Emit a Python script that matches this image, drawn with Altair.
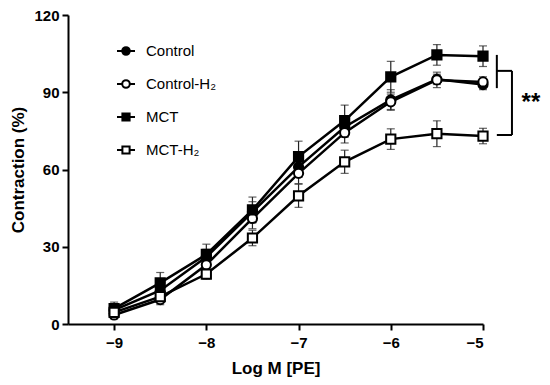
import altair as alt
import pandas as pd

# ---- data ----
log_m = [-9, -8.5, -8, -7.5, -7, -6.5, -6, -5.5, -5]
series_names = ["Control", "Control-H\u2082", "MCT", "MCT-H\u2082"]

control = [5.4, 13, 26, 43.5, 61, 76.5, 87, 95, 93]
control_err = [2, 3, 3, 4, 4, 4, 4, 2, 2]

control_h2 = [3.5, 9.5, 23, 41, 58.5, 74.3, 86.3, 94.8, 94]
control_h2_err = [1.5, 2, 3, 4, 4, 4, 3, 3, 2]

mct = [6, 16, 27, 44.3, 65, 79, 96, 104.5, 104]
mct_err = [2.5, 4, 4, 5, 6, 6, 6, 4, 4]

mct_h2 = [4.5, 10.6, 19.4, 33.4, 49.8, 63, 71.8, 73.9, 73]
mct_h2_err = [2, 2, 2, 3, 4.5, 4.5, 4, 5, 3]

# significance bracket (data units)
bracket_x = [-4.85, -4.686]
bracket_top = [104.5, 91.6]
bracket_mid = 98.3
bracket_bottom = 73.4
star_x = -4.48
star_y = 85.8
star_text = "**"

rows = []
for name, vals, errs in zip(series_names,
                            [control, control_h2, mct, mct_h2],
                            [control_err, control_h2_err, mct_err, mct_h2_err]):
    for x, v, e in zip(log_m, vals, errs):
        rows.append({"x": x, "y": v, "lo": v - e, "hi": v + e, "series": name})
df = pd.DataFrame(rows)

FONT = "Liberation Sans"
XT = "Log M [PE]"
YT = "Contraction (%)"

xscale = alt.Scale(domain=[-9.5, -5], nice=False, zero=False)
yscale = alt.Scale(domain=[0, 120], nice=False)

X = alt.X("x:Q", scale=xscale, title=XT,
          axis=alt.Axis(values=[-9, -8, -7, -6, -5], format="d"))
Y = alt.Y("y:Q", scale=yscale, title=YT,
          axis=alt.Axis(values=[0, 30, 60, 90, 120]))

base = alt.Chart(df)

errbars = base.mark_errorbar(
    color="#222222",
    ticks={"size": 8, "thickness": 1.2, "color": "#222222"},
    rule={"strokeWidth": 1.2},
).encode(
    x=alt.X("x:Q", scale=xscale, title=XT),
    y=alt.Y("lo:Q", scale=yscale, title=YT),
    y2="hi:Q",
    detail="series:N",
)

lines = base.mark_line(color="black", strokeWidth=2.5).encode(
    x=X, y=Y, detail="series:N"
)

points = base.mark_point(stroke="black", strokeWidth=2, size=85, opacity=1).encode(
    x=X, y=Y,
    shape=alt.Shape("series:N", scale=alt.Scale(domain=series_names,
                    range=["circle", "circle", "square", "square"]), legend=None),
    fill=alt.Fill("series:N", scale=alt.Scale(domain=series_names,
                  range=["black", "white", "black", "white"]), legend=None),
)

circ_path = ("M-1,0H-0.42M0.42,0H1M0.42,0A0.42,0.42,0,1,1,-0.42,0"
             "A0.42,0.42,0,1,1,0.42,0Z")
sq_path = "M-1,0H-0.4M0.4,0H1M-0.4,-0.4H0.4V0.4H-0.4Z"

# zero-size marks: only their legend is visible
legend_layer = base.mark_point(size=0, strokeWidth=2, opacity=1).encode(
    x=X, y=Y,
    shape=alt.Shape("series:N", scale=alt.Scale(domain=series_names,
                    range=[circ_path, circ_path, sq_path, sq_path]),
                    legend=alt.Legend(title=None, orient="none", legendX=48, legendY=26,
                                      symbolSize=324, symbolOpacity=1,
                                      symbolStrokeWidth=2,
                                      labelFont=FONT, labelFontSize=15,
                                      labelColor="black", labelOffset=10,
                                      rowPadding=15, padding=0)),
    fill=alt.Fill("series:N", scale=alt.Scale(domain=series_names,
                  range=["black", "white", "black", "white"]),
                  legend=alt.Legend(title=None)),
    stroke=alt.Stroke("series:N", scale=alt.Scale(domain=series_names,
                      range=["black", "black", "black", "black"]),
                      legend=alt.Legend(title=None)),
)

bdf = pd.DataFrame({
    "x": [bracket_x[0], bracket_x[0], bracket_x[1], bracket_x[0]],
    "x2": [bracket_x[0], bracket_x[1], bracket_x[1], bracket_x[1]],
    "y": [bracket_top[0], bracket_mid, bracket_mid, bracket_bottom],
    "y2": [bracket_top[1], bracket_mid, bracket_bottom, bracket_bottom],
})
bracket = alt.Chart(bdf).mark_rule(color="black", strokeWidth=2).encode(
    x=alt.X("x:Q", scale=xscale, title=XT), x2="x2:Q",
    y=alt.Y("y:Q", scale=yscale, title=YT), y2="y2:Q",
)

stars = alt.Chart(pd.DataFrame({"x": [star_x], "y": [star_y], "t": [star_text]})).mark_text(
    font=FONT, fontSize=24, fontWeight="bold", color="black", baseline="middle"
).encode(x=alt.X("x:Q", scale=xscale, title=XT),
         y=alt.Y("y:Q", scale=yscale, title=YT), text="t:N")

chart = alt.layer(legend_layer, errbars, lines, points, bracket, stars).resolve_scale(
    shape="independent", fill="independent", stroke="independent"
).properties(
    width=415, height=309,
    autosize=alt.AutoSizeParams(type="none"),
    padding={"left": 60, "top": 7, "right": 59, "bottom": 53},
).configure_view(stroke=None).configure_axis(
    grid=False,
    domainColor="black", domainWidth=2,
    tickColor="black", tickWidth=2, tickSize=6,
    labelFont=FONT, labelFontSize=15, labelFontWeight="bold", labelColor="black",
    titleFont=FONT, titleFontSize=17, titleFontWeight="bold", titleColor="black",
).configure_axisX(labelPadding=5, titlePadding=10).configure_axisY(
    labelPadding=3, titlePadding=6
)

chart.save("out.html", embed_options={"renderer": "svg", "actions": False})
